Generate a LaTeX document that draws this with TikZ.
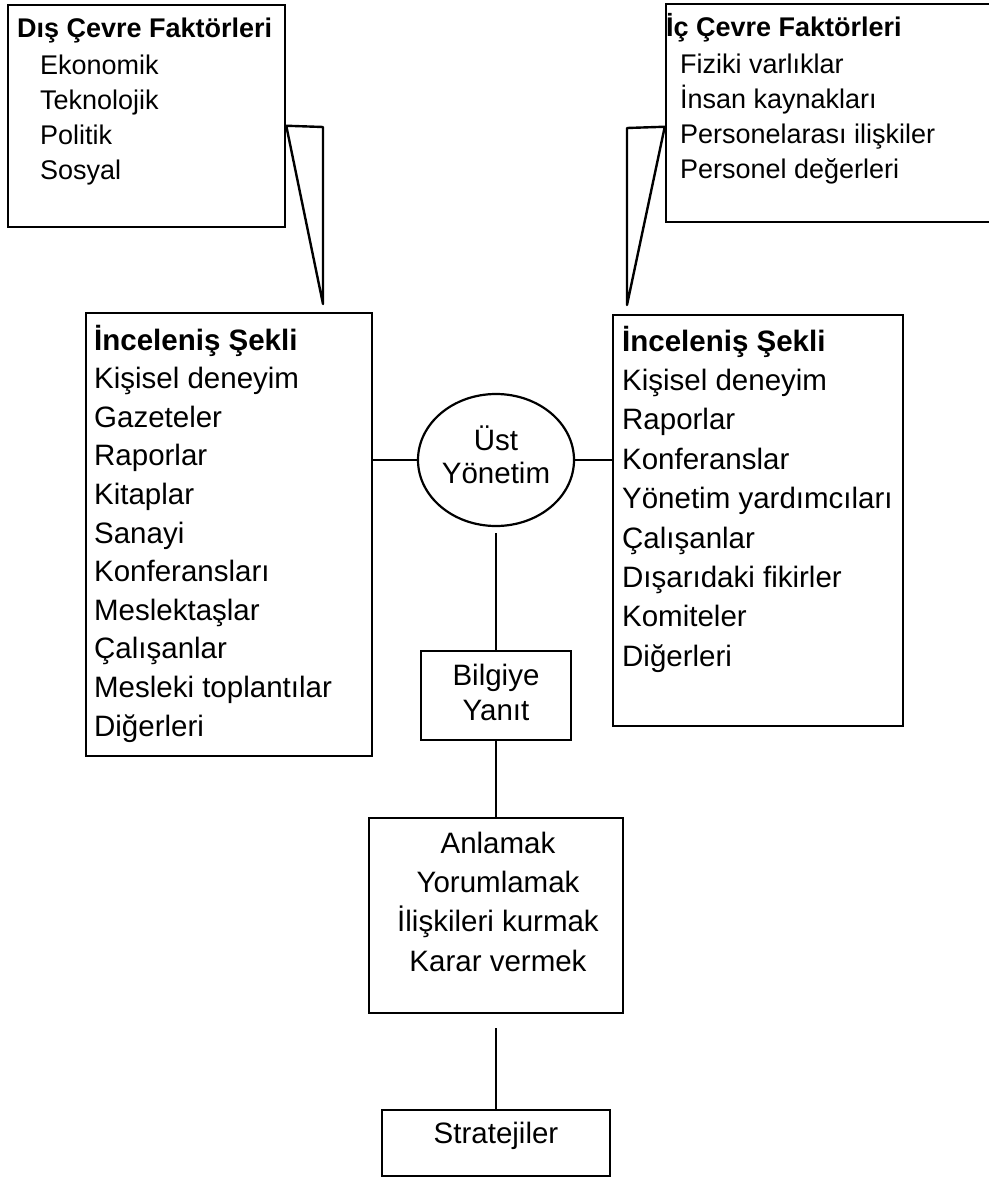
\documentclass[tikz,border=0pt]{standalone}
\usepackage{fontspec}
\setmainfont{Liberation Sans}
\usepackage{tikz}
\usetikzlibrary{shapes.geometric}
\usetikzlibrary{positioning}
\tikzset{framebox/.style={rectangle,draw=black,line width=1.25pt,inner sep=0pt}}
\tikzset{oval/.style={ellipse,draw=black,line width=1.1pt,inner sep=0pt,align=center}}
\tikzset{toplist/.style={inner sep=0pt,align=left,anchor=north west,font=\fontsize{13.5}{17.5}\selectfont}}
\tikzset{midlist/.style={inner sep=0pt,align=left,anchor=north west,font=\fontsize{14.75}{#1}\selectfont}}
\tikzset{link/.style={line width=1.2pt}}

\begin{document}
\begin{tikzpicture}[x=0.5pt,y=-0.5pt]
\useasboundingbox (0,0) rectangle (989,1178);

\node[framebox, minimum width=138.5pt, minimum height=111pt] (dis) at (146.5,116) {};
\node[toplist] (dis-t) at ([shift={(10,9)}]dis.north west)
  {\strut\textbf{Dış Çevre Faktörleri}\\[1pt]\hspace*{11.5pt}Ekonomik\\\hspace*{11.5pt}Teknolojik\\\hspace*{11.5pt}Politik\\\hspace*{11.5pt}Sosyal};

\node[framebox, minimum width=167pt, minimum height=109pt] (ic) at (833,113) {};
\node[toplist] (ic-t) at ([shift={(1,8.5)}]ic.north west)
  {\strut\textbf{İç Çevre Faktörleri}\\[1pt]\hspace*{7pt}Fiziki varlıklar\\\hspace*{7pt}İnsan kaynakları\\\hspace*{7pt}Personelarası ilişkiler\\\hspace*{7pt}Personel değerleri};

\coordinate (dis-tip) at (323,304);
\coordinate (ic-tip) at (627,305);
\draw[link, line join=round] (dis.north east) ++(0,122) -- (dis-tip |- 0,127) -- (dis-tip) -- cycle;
\draw[link, line join=round] (ic.north west) ++(0,124) -- (ic-tip |- 0,128) -- (ic-tip) -- cycle;

\node[framebox, minimum width=143pt, minimum height=221.5pt] (incl) at (229,534.5) {};
\node[midlist=19.3pt] (incl-t) at ([shift={(9,11)}]incl.north west)
  {\strut\textbf{İnceleniş Şekli}\\Kişisel deneyim\\Gazeteler\\Raporlar\\Kitaplar\\Sanayi\\Konferansları\\Meslektaşlar\\Çalışanlar\\Mesleki toplantılar\\Diğerleri};

\node[framebox, minimum width=145pt, minimum height=205.5pt] (incr) at (758,520.5) {};
\node[midlist=19.7pt] (incr-t) at ([shift={(10,9.4)}]incr.north west)
  {\strut\textbf{İnceleniş Şekli}\\Kişisel deneyim\\Raporlar\\Konferanslar\\Yönetim yardımcıları\\Çalışanlar\\Dışarıdaki fikirler\\Komiteler\\Diğerleri};

\node[oval, minimum width=78pt, minimum height=66pt, font=\fontsize{14.75}{16.5}\selectfont] (yonetim) at (496,460) {\strut Üst\\\strut Yönetim};
\node[framebox, align=center, minimum width=75pt, minimum height=44.5pt, font=\fontsize{14.75}{17.5}\selectfont] (bilgi) at (496,695.5) {\strut Bilgiye\\\strut Yanıt};

\node[framebox, minimum width=127pt, minimum height=97.5pt] (anlam) at (496,915.5) {};
\node[inner sep=0pt, align=center, anchor=north, font=\fontsize{14.75}{19.65}\selectfont] (anlam-t) at ([shift={(2,8.5)}]anlam.north)
  {\strut Anlamak\\Yorumlamak\\İlişkileri kurmak\\Karar vermek};

\node[framebox, minimum width=114pt, minimum height=33pt, text height=8pt, text depth=8pt, font=\fontsize{14.75}{17}\selectfont] (strat) at (496,1143) {Stratejiler};

\draw[link] (yonetim.west) -- (yonetim.west -| incl.east);
\draw[link] (yonetim.east) -- (yonetim.east -| incr.west);
\draw[link, shorten <=3pt] (yonetim) -- (bilgi);
\draw[link] (bilgi) -- (anlam);
\draw[link, shorten <=7pt] (anlam) -- (strat);

\end{tikzpicture}
\end{document}
